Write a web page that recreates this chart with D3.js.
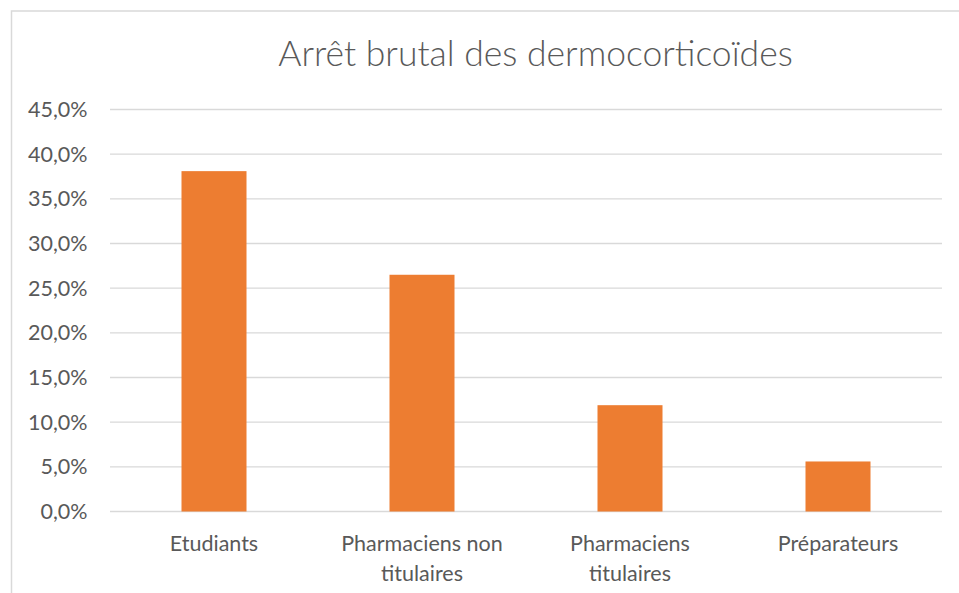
<!DOCTYPE html>
<html>
<head>
<meta charset="utf-8">
<script src="https://cdn.jsdelivr.net/npm/d3@7/dist/d3.min.js"></script>
<style>
  html, body { margin: 0; padding: 0; background: #fff; }
  svg { display: block; }
</style>
</head>
<body>
<svg id="chart" width="959" height="593"></svg>
<script>
const title = "Arrêt brutal des dermocorticoïdes";
const categories = ["Etudiants", "Pharmaciens non titulaires", "Pharmaciens titulaires", "Préparateurs"];
const categoryLines = [["Etudiants"], ["Pharmaciens non", "titulaires"], ["Pharmaciens", "titulaires"], ["Préparateurs"]];
const values = [38.1, 26.5, 11.9, 5.6];
const yTicks = [0, 5, 10, 15, 20, 25, 30, 35, 40, 45];

(function () {
const svg = d3.select("#chart");
const font = "Lato, 'Open Sans', sans-serif";
const textColor = "#595959";
const gridColor = "#d9d9d9";

// chart area border
svg.append("rect")
  .attr("x", 11.5).attr("y", 11)
  .attr("width", 1000).attr("height", 700)
  .attr("fill", "none").attr("stroke", gridColor).attr("stroke-width", 1.5);

const pLeft = 110, pRight = 942, pTop = 109.5, pBottom = 511.5;

const x = d3.scaleBand().domain(categories).range([pLeft, pRight]).paddingInner(0.6875).paddingOuter(0.34375);
const y = d3.scaleLinear().domain([0, 45]).range([pBottom, pTop]);

// gridlines
svg.append("g").selectAll("line").data(yTicks).join("line")
  .attr("x1", pLeft).attr("x2", pRight)
  .attr("y1", d => y(d)).attr("y2", d => y(d))
  .attr("stroke", gridColor).attr("stroke-width", 1.3);

// y tick labels
const fmt = d => d.toFixed(1).replace(".", ",") + "%";
svg.append("g").selectAll("text").data(yTicks).join("text")
  .attr("x", 87.5).attr("y", d => y(d))
  .attr("dy", "0.35em")
  .attr("text-anchor", "end")
  .attr("font-family", font).attr("font-size", 21.5)
  .attr("fill", textColor)
  .text(fmt);

// bars
svg.append("g").selectAll("rect").data(values).join("rect")
  .attr("x", (d, i) => x(categories[i]))
  .attr("width", x.bandwidth())
  .attr("y", d => y(d))
  .attr("height", d => y(0) - y(d))
  .attr("fill", "#ED7D31");

// category labels
const cat = svg.append("g").selectAll("text").data(categories).join("text")
  .attr("text-anchor", "middle")
  .attr("font-family", font).attr("font-size", 21.5)
  .attr("fill", textColor);
cat.each(function (c, i) {
  const t = d3.select(this);
  categoryLines[i].forEach((line, j) => {
    t.append("tspan")
      .attr("x", x(c) + x.bandwidth() / 2)
      .attr("y", 551 + j * 29.5)
      .text(line);
  });
});

// title
svg.append("text")
  .attr("x", 535.5).attr("y", 65.5)
  .attr("text-anchor", "middle")
  .attr("font-family", font).attr("font-size", 35.5).attr("font-weight", 300)
  .attr("fill", textColor)
  .text(title);
})();
</script>
</body>
</html>
